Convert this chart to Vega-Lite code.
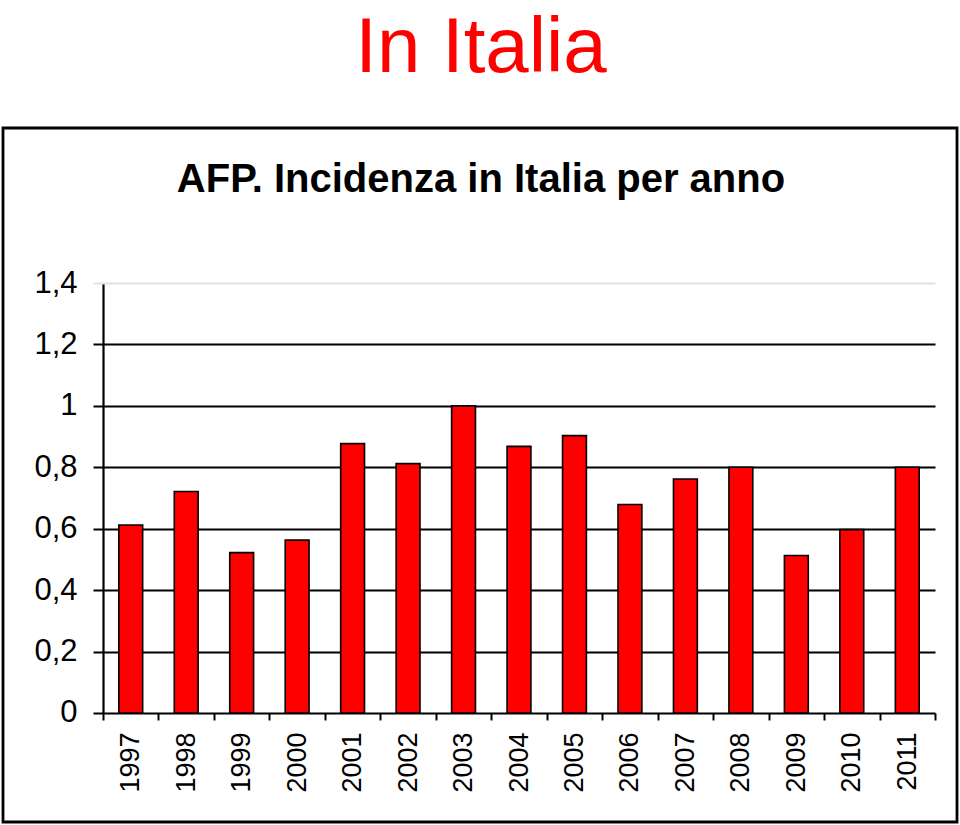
{
  "$schema": "https://vega.github.io/schema/vega-lite/v6.json",
  "autosize": {"type": "none"},
  "padding": {"left": 3, "top": 128, "right": 3, "bottom": 3},
  "background": "white",
  "title": {
    "text": "In Italia",
    "subtitle": "AFP. Incidenza in Italia per anno",
    "anchor": "middle",
    "frame": "group",
    "dx": 1,
    "font": "Liberation Sans",
    "fontSize": 78,
    "fontWeight": "normal",
    "color": "#ff0000",
    "subtitleFont": "Liberation Sans",
    "subtitleFontSize": 40,
    "subtitleFontWeight": "bold",
    "subtitleColor": "black",
    "subtitlePadding": 72,
    "offset": -72
  },
  "width": 954,
  "height": 694,
  "config": {
    "view": {"stroke": "black", "strokeWidth": 2.8, "fill": "white"},
    "axis": {"labelFont": "Liberation Sans", "labelColor": "black"}
  },
  "data": {
    "values": [
      {"anno": "1997", "incidenza": 0.612},
      {"anno": "1998", "incidenza": 0.721},
      {"anno": "1999", "incidenza": 0.522},
      {"anno": "2000", "incidenza": 0.563},
      {"anno": "2001", "incidenza": 0.877},
      {"anno": "2002", "incidenza": 0.812},
      {"anno": "2003", "incidenza": 1.0},
      {"anno": "2004", "incidenza": 0.868},
      {"anno": "2005", "incidenza": 0.903},
      {"anno": "2006", "incidenza": 0.679},
      {"anno": "2007", "incidenza": 0.762},
      {"anno": "2008", "incidenza": 0.8},
      {"anno": "2009", "incidenza": 0.513},
      {"anno": "2010", "incidenza": 0.597},
      {"anno": "2011", "incidenza": 0.8}
    ]
  },
  "resolve": {"axis": {"x": "independent", "y": "independent"}},
  "layer": [
    {
      "mark": {"type": "bar", "opacity": 0, "width": {"band": 0.43}},
      "encoding": {
        "x": {
          "field": "anno",
          "type": "nominal",
          "scale": {"paddingInner": 0, "paddingOuter": 0, "range": [100, 932]},
          "axis": {
            "title": null,
            "orient": "bottom",
            "offset": -539,
            "domain": false,
            "grid": false,
            "labels": false,
            "bandPosition": 0,
            "tickSize": 430,
            "tickWidth": 2.2,
            "tickColor": "black",
            "tickOpacity": {"condition": {"test": "datum.value === '1997'", "value": 1}, "value": 0}
          }
        },
        "y": {
          "field": "incidenza",
          "type": "quantitative",
          "scale": {"domain": [-0.3549, 1.9047], "nice": false, "zero": false},
          "axis": null
        },
        "y2": {"datum": 0}
      }
    },
    {
      "mark": {"type": "bar", "fill": "#ff0000", "stroke": "black", "strokeWidth": 1.6, "width": {"band": 0.43}},
      "encoding": {
        "x": {
          "field": "anno",
          "type": "nominal",
          "axis": {
            "title": null,
            "orient": "bottom",
            "offset": -109,
            "domain": false,
            "grid": false,
            "tickBand": "extent",
            "tickSize": 7,
            "tickWidth": 2,
            "tickColor": "black",
            "labelAngle": -90,
            "labelAlign": "right",
            "labelBaseline": "middle",
            "labelFontSize": 27,
            "labelPadding": 12
          }
        },
        "y": {
          "field": "incidenza",
          "type": "quantitative",
          "axis": {
            "title": null,
            "orient": "left",
            "offset": -932,
            "domain": false,
            "grid": false,
            "values": [0, 0.2, 0.4, 0.6, 0.8, 1, 1.2, 1.4],
            "tickSize": 842,
            "tickWidth": 2,
            "tickColor": {"condition": {"test": "datum.value >= 1.39", "value": "#e2e2e2"}, "value": "black"},
            "labelFontSize": 31,
            "labelPadding": 16,
            "labelExpr": "replace(format(datum.value, '~g'), '.', ',')"
          }
        },
        "y2": {"datum": 0}
      }
    }
  ]
}
